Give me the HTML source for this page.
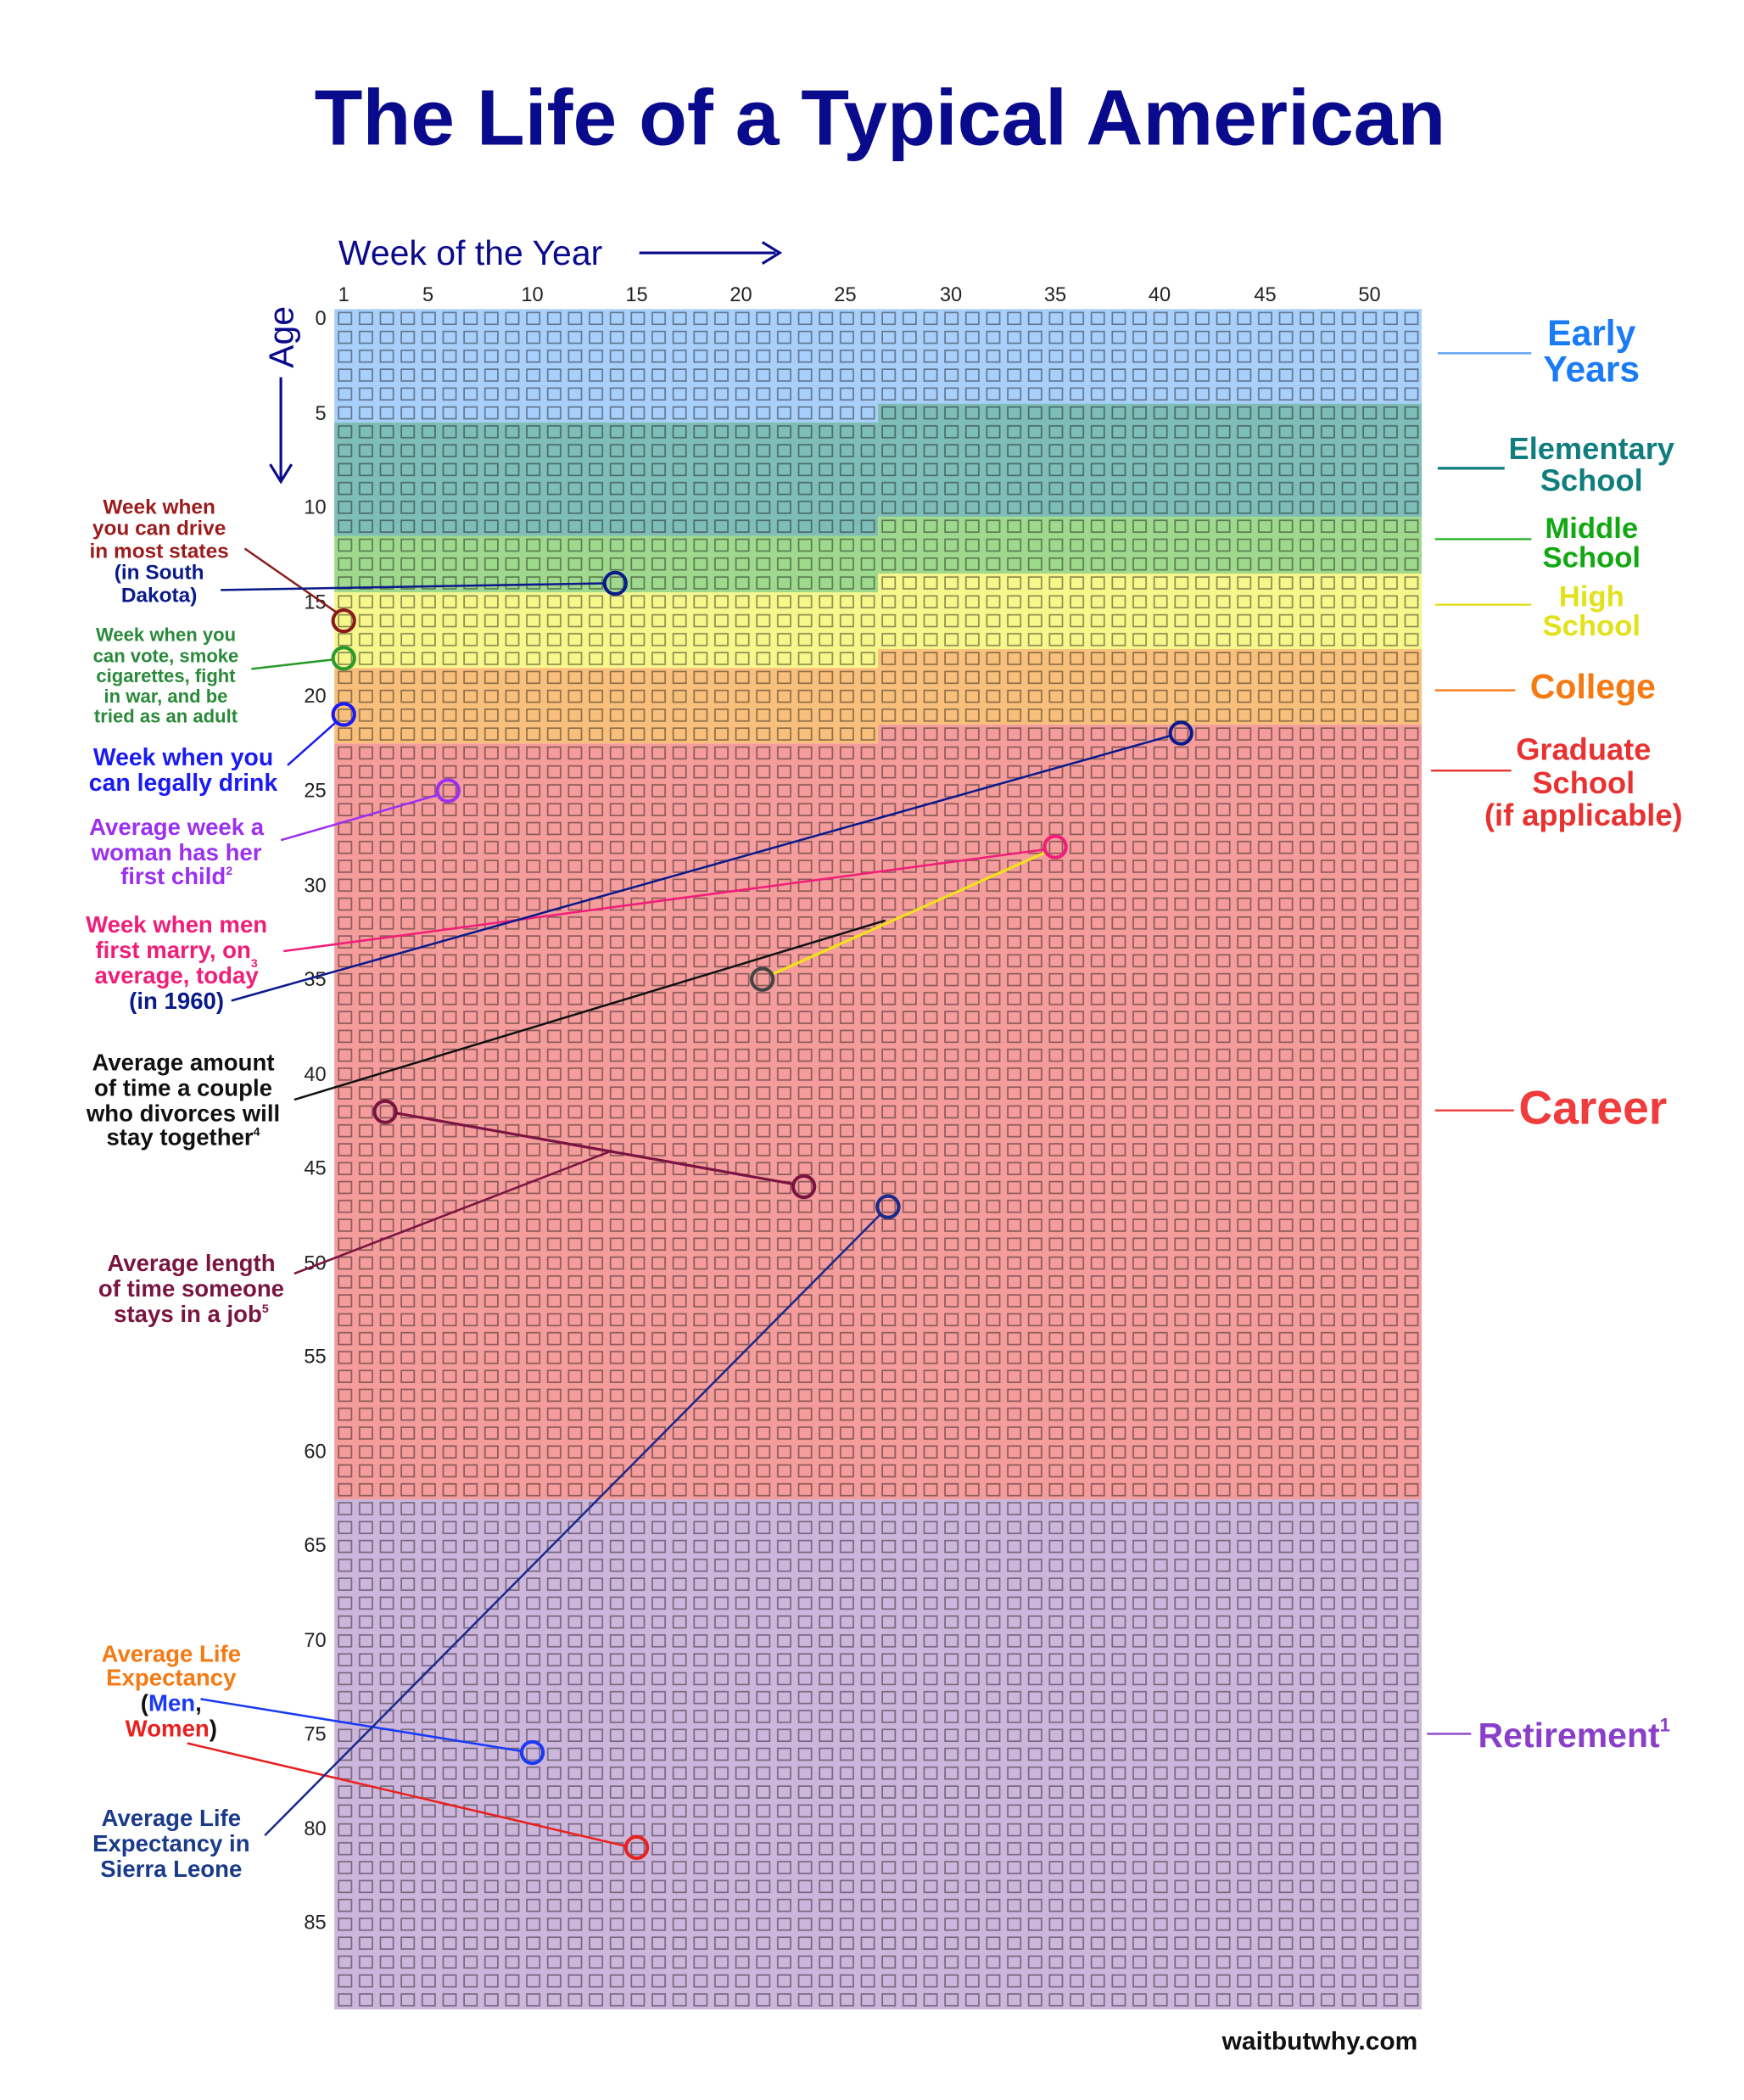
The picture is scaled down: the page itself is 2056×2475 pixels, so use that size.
<!DOCTYPE html>
<html><head><meta charset="utf-8"><style>html,body{margin:0;padding:0;background:#fff}svg{display:block}</style></head><body>
<svg width="2056" height="2475" viewBox="0 0 1304 1569.7" xmlns="http://www.w3.org/2000/svg" font-family="Liberation Sans, sans-serif">
<defs>
<pattern id="cells" patternUnits="userSpaceOnUse" x="250" y="231" width="15.635" height="14.122">
<rect x="3.2" y="2.6" width="9.6" height="8.8" fill="none" stroke="#000" stroke-opacity="0.42" stroke-width="1.1"/>
</pattern>
</defs>
<rect width="1304" height="1570" fill="#fff"/>
<text x="658" y="108" text-anchor="middle" font-size="59" font-weight="bold" fill="#0a0a8c">The Life of a Typical American</text>
<!-- bands -->
<path d="M250,231 H1063 V301.6 H656.5 V315.7 H250Z" fill="#a9d0fb"/>
<path d="M250,315.7 H656.5 V301.6 H1063 V386.3 H656.5 V400.5 H250Z" fill="#7fbdb8"/>
<path d="M250,400.5 H656.5 V386.3 H1063 V428.7 H656.5 V442.8 H250Z" fill="#9fd98e"/>
<path d="M250,442.8 H656.5 V428.7 H1063 V485.2 H656.5 V499.3 H250Z" fill="#f7f78c"/>
<path d="M250,499.3 H656.5 V485.2 H1063 V541.7 H656.5 V555.8 H250Z" fill="#f8c07c"/>
<path d="M250,555.8 H656.5 V541.7 H1063 V1120.7 H250Z" fill="#f59c9c"/>
<path d="M250,1120.7 H1063 V1502 H250Z" fill="#cdb6dc"/>
<rect x="250" y="231" width="813" height="1271" fill="url(#cells)"/>
<!-- axes labels -->
<text x="253" y="198" font-size="26" fill="#0a0a8c">Week of the Year</text>
<line x1="478" y1="189" x2="580" y2="189" stroke="#0a0a8c" stroke-width="2"/>
<path d="M570,181 L583,189 L570,197" fill="none" stroke="#0a0a8c" stroke-width="2"/>
<text transform="translate(219,252) rotate(-90)" text-anchor="middle" font-size="26" fill="#0a0a8c">Age</text>
<line x1="210" y1="282" x2="210" y2="358" stroke="#0a0a8c" stroke-width="2"/>
<path d="M202,347 L210,360 L218,347" fill="none" stroke="#0a0a8c" stroke-width="2"/>
<g font-size="15" fill="#222" text-anchor="middle">
<text x="257" y="225">1</text><text x="320" y="225">5</text><text x="398" y="225">10</text><text x="476" y="225">15</text><text x="554" y="225">20</text><text x="632" y="225">25</text><text x="711" y="225">30</text><text x="789" y="225">35</text><text x="867" y="225">40</text><text x="946" y="225">45</text><text x="1024" y="225">50</text>
</g>
<g font-size="15" fill="#222" text-anchor="end">
<text x="244" y="243">0</text><text x="244" y="314">5</text><text x="244" y="384">10</text><text x="244" y="455">15</text><text x="244" y="525">20</text><text x="244" y="596">25</text><text x="244" y="667">30</text><text x="244" y="737">35</text><text x="244" y="808">40</text><text x="244" y="878">45</text><text x="244" y="949">50</text><text x="244" y="1019">55</text><text x="244" y="1090">60</text><text x="244" y="1160">65</text><text x="244" y="1231">70</text><text x="244" y="1301">75</text><text x="244" y="1372">80</text><text x="244" y="1442">85</text>
</g>
<!-- right labels -->
<g font-weight="bold" text-anchor="middle">
<line x1="1075" y1="264" x2="1145" y2="264" stroke="#5aa2f5" stroke-width="1.5"/>
<text x="1190" y="258" font-size="27" fill="#1a7bf5">Early</text><text x="1190" y="285" font-size="27" fill="#1a7bf5">Years</text>
<line x1="1075" y1="350" x2="1125" y2="350" stroke="#127d7d" stroke-width="2"/>
<text x="1190" y="343" font-size="23" fill="#127d7d">Elementary</text><text x="1190" y="367" font-size="23" fill="#127d7d">School</text>
<line x1="1073" y1="403" x2="1145" y2="403" stroke="#2ab02a" stroke-width="1.5"/>
<text x="1190" y="402" font-size="22" fill="#12a812">Middle</text><text x="1190" y="424" font-size="22" fill="#12a812">School</text>
<line x1="1073" y1="452" x2="1145" y2="452" stroke="#e0e020" stroke-width="1.5"/>
<text x="1190" y="453" font-size="22" fill="#e2e21c">High</text><text x="1190" y="475" font-size="22" fill="#e2e21c">School</text>
<line x1="1073" y1="516" x2="1133" y2="516" stroke="#f57a14" stroke-width="1.5"/>
<text x="1191" y="522" font-size="26" fill="#f57a14">College</text>
<line x1="1070" y1="576" x2="1130" y2="576" stroke="#e83232" stroke-width="1.5"/>
<text x="1184" y="568" font-size="23" fill="#e83232">Graduate</text><text x="1184" y="593" font-size="23" fill="#e83232">School</text><text x="1184" y="617" font-size="23" fill="#e83232">(if applicable)</text>
<line x1="1073" y1="830" x2="1132" y2="830" stroke="#f03c3c" stroke-width="1.5"/>
<text x="1191" y="840" font-size="35" fill="#f03c3c">Career</text>
<line x1="1067" y1="1296" x2="1100" y2="1296" stroke="#8a3fc9" stroke-width="1.5"/>
<text x="1177" y="1306" font-size="26" fill="#8a3fc9">Retirement<tspan font-size="14" dy="-12">1</tspan></text>
</g>
<!-- annotation lines -->
<g fill="none" stroke-width="1.6">
<line x1="183" y1="410" x2="252" y2="458" stroke="#8b1a1a"/>
<line x1="165" y1="441" x2="452" y2="436" stroke="#0a1a8a"/>
<line x1="188" y1="500" x2="249" y2="493" stroke="#2a9a2a"/>
<line x1="215" y1="572" x2="251" y2="540" stroke="#1a1af5"/>
<line x1="210" y1="628" x2="328" y2="594" stroke="#9b30f0"/>
<line x1="212" y1="711" x2="781" y2="635" stroke="#f01e78"/>
<line x1="173" y1="748" x2="875" y2="550" stroke="#0a1a8a"/>
<line x1="578" y1="728" x2="782" y2="637" stroke="#f2e21a" stroke-width="2"/>
<line x1="220" y1="822" x2="662" y2="688" stroke="#111"/>
<line x1="296" y1="832" x2="593" y2="885" stroke="#7a1440" stroke-width="2"/>
<line x1="220" y1="952" x2="458" y2="860" stroke="#7a1440"/>
<line x1="150" y1="1270" x2="390" y2="1309" stroke="#1a3af5"/>
<line x1="140" y1="1303" x2="468" y2="1380" stroke="#e82020"/>
<line x1="198" y1="1372" x2="658" y2="908" stroke="#1a2a8a"/>
</g>
<g fill="none" stroke-width="2.6">
<circle cx="460" cy="436" r="8" stroke="#0a1a8a"/>
<circle cx="257" cy="464" r="8" stroke="#8b1a1a"/>
<circle cx="257" cy="492" r="8" stroke="#2a9a2a"/>
<circle cx="257" cy="534" r="8" stroke="#1a1af5"/>
<circle cx="335" cy="591" r="8" stroke="#9b30f0"/>
<circle cx="883" cy="548" r="8" stroke="#0a1a8a"/>
<circle cx="789" cy="633" r="8" stroke="#f01e78"/>
<circle cx="570" cy="732" r="8" stroke="#444"/>
<circle cx="288" cy="831" r="8" stroke="#7a1440"/>
<circle cx="601" cy="887" r="8" stroke="#7a1440"/>
<circle cx="664" cy="902" r="8" stroke="#1a2a8a"/>
<circle cx="398" cy="1310" r="8" stroke="#1a3af5"/>
<circle cx="476" cy="1381" r="8" stroke="#e82020"/>
</g>
<!-- annotation texts -->
<g font-weight="bold" text-anchor="middle">
<g font-size="15.5" fill="#9b1c1c"><text x="119" y="384">Week when</text><text x="119" y="400">you can drive</text><text x="119" y="417">in most states</text></g>
<g font-size="15.5" fill="#0a1a8a"><text x="119" y="433">(in South</text><text x="119" y="450">Dakota)</text></g>
<g font-size="14" fill="#2a8a3a"><text x="124" y="479">Week when you</text><text x="124" y="495">can vote, smoke</text><text x="124" y="510">cigarettes, fight</text><text x="124" y="525">in war, and be</text><text x="124" y="540">tried as an adult</text></g>
<g font-size="18" fill="#1a1af5"><text x="137" y="572">Week when you</text><text x="137" y="591">can legally drink</text></g>
<g font-size="17.5" fill="#9b30f0"><text x="132" y="624">Average week a</text><text x="132" y="643">woman has her</text><text x="132" y="661">first child<tspan font-size="9" dy="-7">2</tspan></text></g>
<g font-size="17.5" fill="#f01e78"><text x="132" y="697">Week when men</text><text x="132" y="716">first marry, on<tspan font-size="9" dy="7">3</tspan></text><text x="132" y="735">average, today</text></g>
<text x="132" y="754" font-size="17.5" fill="#0a1a8a">(in 1960)</text>
<g font-size="17.5" fill="#111"><text x="137" y="800">Average amount</text><text x="137" y="819">of time a couple</text><text x="137" y="838">who divorces will</text><text x="137" y="856">stay together<tspan font-size="9" dy="-7">4</tspan></text></g>
<g font-size="17.5" fill="#7a1440"><text x="143" y="950">Average length</text><text x="143" y="969">of time someone</text><text x="143" y="988">stays in a job<tspan font-size="9" dy="-7">5</tspan></text></g>
<g font-size="17.5" fill="#f57a14"><text x="128" y="1242">Average Life</text><text x="128" y="1260">Expectancy</text></g>
<text x="128" y="1279" font-size="17.5" fill="#111">(<tspan fill="#1a3af5">Men</tspan>,</text>
<text x="128" y="1298" font-size="17.5" fill="#111"><tspan fill="#e82020">Women</tspan>)</text>
<g font-size="17.5" fill="#1a3a8a"><text x="128" y="1365">Average Life</text><text x="128" y="1384">Expectancy in</text><text x="128" y="1403">Sierra Leone</text></g>
</g>
<text x="1060" y="1532" text-anchor="end" font-size="19" font-weight="bold" fill="#111">waitbutwhy.com</text>
</svg>
</body></html>
